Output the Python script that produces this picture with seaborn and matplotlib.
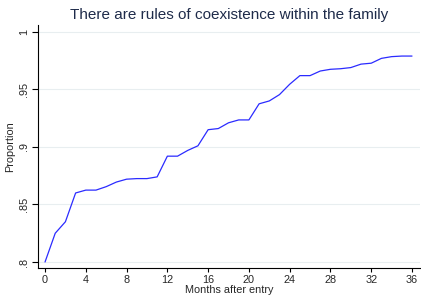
import pandas as pd
import matplotlib.pyplot as plt
import seaborn as sns

# Months after entry and cumulative proportion
months = list(range(0, 37))
proportion = [0.800, 0.825, 0.835, 0.860, 0.8625, 0.8625, 0.8655, 0.8695, 0.872, 0.8725,
              0.8725, 0.874, 0.892, 0.892, 0.897, 0.901, 0.915, 0.916, 0.921, 0.9235,
              0.9235, 0.9375, 0.940, 0.9455, 0.9545, 0.962, 0.962, 0.966, 0.9675, 0.968,
              0.969, 0.972, 0.9728, 0.977, 0.9785, 0.979, 0.979]
y_ticks = [0.8, 0.85, 0.9, 0.95, 1.0]
y_labels = ['.8', '.85', '.9', '.95', '1']
x_ticks = list(range(0, 37, 4))

data = pd.DataFrame({'month': months, 'proportion': proportion})

sns.set_style('white')
plt.rcParams['font.family'] = ['Liberation Sans', 'DejaVu Sans']

fig = plt.figure(figsize=(4.21, 3.03), dpi=100)
ax = fig.add_axes([0.090, 0.1155, 0.908, 0.802])

sns.lineplot(data=data, x='month', y='proportion', ax=ax, color='#2b2bff', linewidth=0.9)

ax.set_xlim(-0.7, 36.8)
ax.set_ylim(0.7948, 1.006)
ax.set_yticks(y_ticks)
ax.set_yticklabels(y_labels, rotation=90, va='center')
ax.set_xticks(x_ticks)
ax.grid(axis='y', color='#e8eef0', linewidth=0.8)
ax.set_axisbelow(True)

for side in ['top', 'right']:
    ax.spines[side].set_visible(False)
for side in ['left', 'bottom']:
    ax.spines[side].set_color('black')
    ax.spines[side].set_linewidth(0.8)

ax.tick_params(axis='both', direction='out', width=0.8, color='black',
               labelsize=7.8, pad=2, left=True, bottom=True)
ax.tick_params(axis='y', length=4.5)
ax.tick_params(axis='x', length=3)
ax.set_xlabel('Months after entry', fontsize=7.8, labelpad=0)
ax.set_ylabel('Proportion', fontsize=7.8, labelpad=3)
ax.set_title('There are rules of coexistence within the family', fontsize=11,
             color='#1e2b4a', pad=4)

fig.savefig('out.png', dpi=100)
plt.close()
